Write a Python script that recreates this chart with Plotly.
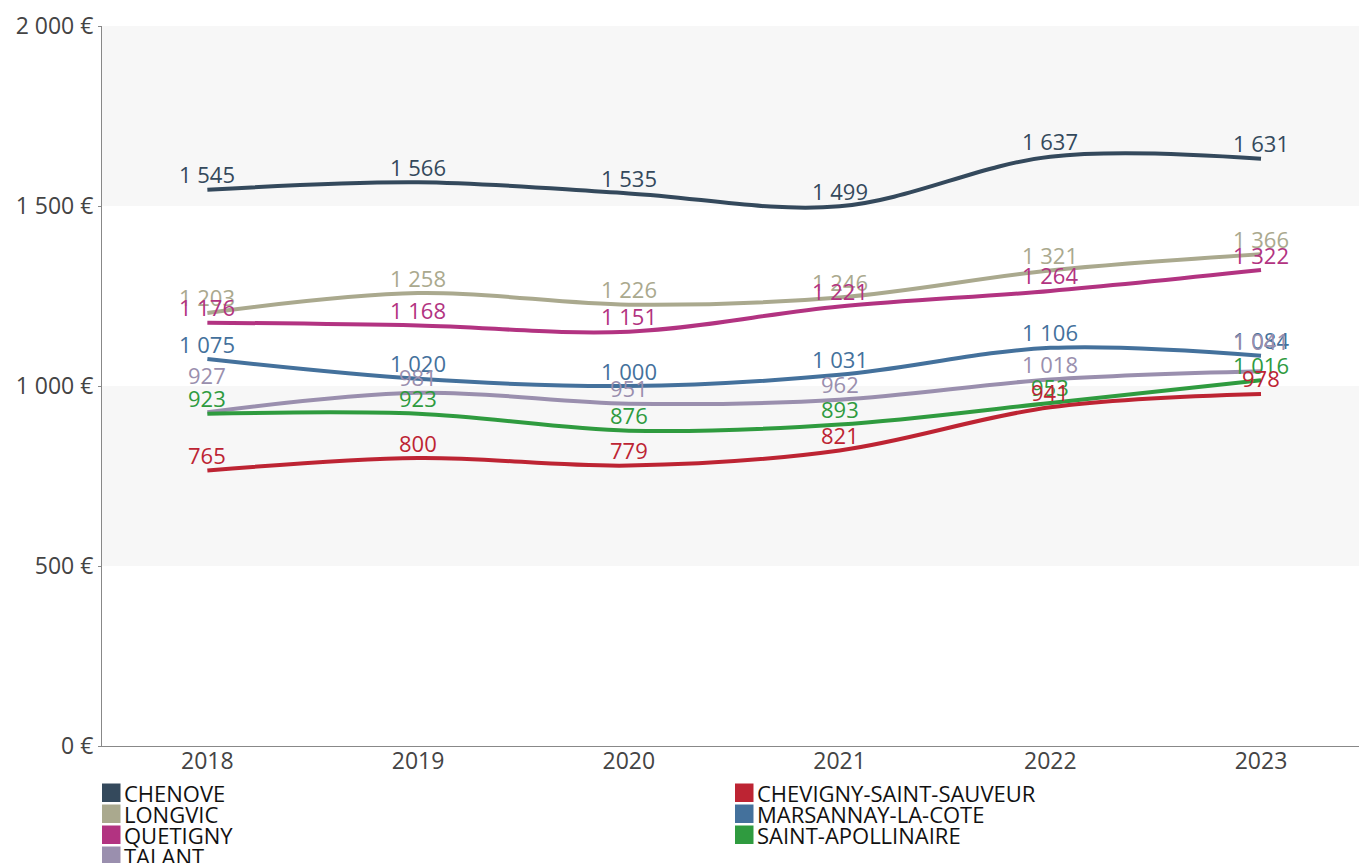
import plotly.graph_objects as go

years = ["2018", "2019", "2020", "2021", "2022", "2023"]

chenove = [1545, 1566, 1535, 1499, 1637, 1631]
longvic = [1203, 1258, 1226, 1246, 1321, 1366]
quetigny = [1176, 1168, 1151, 1221, 1264, 1322]
talant = [927, 981, 951, 962, 1018, 1041]
chevigny = [765, 800, 779, 821, 941, 978]
marsannay = [1075, 1020, 1000, 1031, 1106, 1084]
saint_apollinaire = [923, 923, 876, 893, 953, 1016]

y_ticks = [0, 500, 1000, 1500, 2000]

series = [
    ("CHENOVE", chenove, "#34495c"),
    ("LONGVIC", longvic, "#aaa98e"),
    ("QUETIGNY", quetigny, "#b23381"),
    ("TALANT", talant, "#9a8fae"),
    ("CHEVIGNY-SAINT-SAUVEUR", chevigny, "#bd2433"),
    ("MARSANNAY-LA-COTE", marsannay, "#44719c"),
    ("SAINT-APOLLINAIRE", saint_apollinaire, "#2f9b3f"),
]

FONT = "Open Sans"
LABEL_SHIFT = 15.5
# labels lifted further to keep clear of a neighbour sitting on a close value
extra_shift = {("TALANT", "2018"): 22, ("TALANT", "2023"): 15}


def fmt(v):
    return f"{v:,}".replace(",", " ")


fig = go.Figure()

draw_order = [0, 1, 2, 5, 3, 6, 4]
for i in draw_order:
    name, vals, color = series[i]
    fig.add_trace(go.Scatter(
        x=years, y=vals, name=name,
        mode="lines",
        line=dict(color=color, width=4, shape="spline", smoothing=1),
        showlegend=False, hoverinfo="skip",
    ))

# value labels above each point (x given as category index)
for i in draw_order:
    name, vals, color = series[i]
    for j, (yr, v) in enumerate(zip(years, vals)):
        fig.add_annotation(
            x=j, y=v, xref="x", yref="y", text=fmt(v), showarrow=False,
            xanchor="center", yanchor="middle",
            yshift=LABEL_SHIFT + extra_shift.get((name, yr), 0),
            font=dict(family=FONT, size=22, color=color),
        )

# alternating horizontal bands
for lo, hi in [(1500, 2000), (500, 1000)]:
    fig.add_shape(type="rect", xref="paper", yref="y", x0=0, x1=1, y0=lo, y1=hi,
                  fillcolor="#f7f7f7", line=dict(width=0), layer="below")

# legend drawn as two columns of colour swatches
PLOT_H = 720.0
PLOT_W = 1257.0


def py(pix_from_axis):
    return -pix_from_axis / PLOT_H


legend_cols = [(0.0, [0, 1, 2, 3]), (633.0 / PLOT_W, [4, 5, 6])]
row_step = 21.0
for x0, idxs in legend_cols:
    for r, i in enumerate(idxs):
        name, vals, color = series[i]
        top = 37.5 + r * row_step
        fig.add_shape(type="rect", xref="paper", yref="paper",
                      x0=x0, x1=x0 + 18.5 / PLOT_W,
                      y0=py(top), y1=py(top + 18.5),
                      fillcolor=color, line=dict(width=0))
        fig.add_annotation(xref="paper", yref="paper", x=x0 + 20 / PLOT_W,
                           y=py(top + 9.5), text=name, showarrow=False,
                           xanchor="left", yanchor="middle",
                           font=dict(family=FONT, size=22, color="#111111"))

fig.update_layout(
    width=1359, height=863,
    margin=dict(l=102, r=0, t=26, b=117),
    paper_bgcolor="white", plot_bgcolor="white",
    showlegend=False,
    font=dict(family=FONT, color="#444444"),
    xaxis=dict(
        type="category", range=[-0.5, 5.465],
        showgrid=False, zeroline=False,
        showline=True, linecolor="#888888", linewidth=1,
        ticks="", ticklabelstandoff=-6,
        tickfont=dict(family=FONT, size=23, color="#444444"),
    ),
    yaxis=dict(
        range=[0, 2000], tickvals=y_ticks,
        ticktext=[fmt(v) + " €" for v in y_ticks],
        showgrid=False, zeroline=False,
        showline=True, linecolor="#888888", linewidth=1,
        ticks="outside", ticklen=3, tickcolor="#888888",
        tickfont=dict(family=FONT, size=23, color="#444444"),
    ),
)

fig.write_html("out.html")
